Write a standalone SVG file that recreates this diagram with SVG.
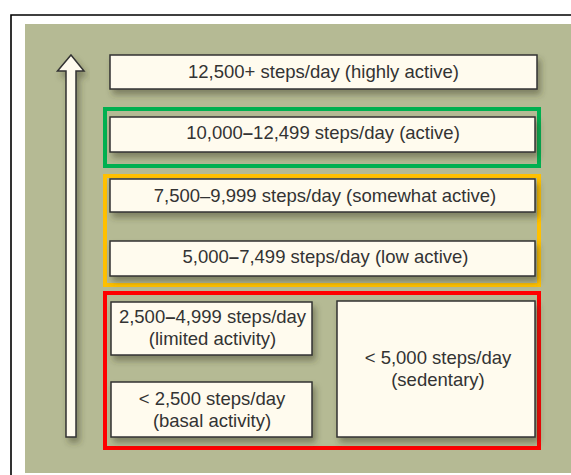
<svg xmlns="http://www.w3.org/2000/svg" width="571" height="475" viewBox="0 0 571 475">
<style>
.box{fill:#FFFBEE;stroke:#333;stroke-width:1.5;filter:url(#sh)}
.grp{fill:none;stroke-width:4}
text{font-family:"Liberation Sans",Arial,sans-serif;font-size:18.5px;fill:#333;text-anchor:middle}
.b{font-weight:bold}
</style>
<defs>
<filter id="sh" x="-10%" y="-20%" width="130%" height="160%">
<feDropShadow dx="3" dy="5" stdDeviation="3" flood-color="#3c3c28" flood-opacity="0.45"/>
</filter>
</defs>
<rect x="0" y="0" width="571" height="475" fill="#fff"/>
<path d="M11 475 V15 H571" fill="none" stroke="#000" stroke-width="1.6"/>
<rect x="25" y="24" width="546" height="449" fill="#B5BA94"/>
<g id="arrow">
<polygon points="71,55 84,71 76,71 76,437 66,437 66,71 57.5,71" fill="#FFFBEE" stroke="#333" stroke-width="1.5" filter="url(#sh)"/>
</g>
<g id="groups">
<rect class="grp" x="105" y="109" width="434" height="57" stroke="#00B050"/>
<rect class="grp" x="105" y="176" width="434" height="109" stroke="#FFC000"/>
<rect class="grp" x="105" y="293" width="434" height="155" stroke="#FF0000"/>
</g>
<g id="n1"><rect class="box" x="110" y="55" width="427" height="34"/><text x="323.5" y="78">12,500+ steps/day (highly active)</text></g>
<g id="n2"><rect class="box" x="110" y="117" width="425" height="35"/><text x="323" y="139">10,000<tspan class="b">–</tspan>12,499 steps/day (active)</text></g>
<g id="n3"><rect class="box" x="110" y="179" width="425" height="33"/><text x="325" y="202">7,500–9,999 steps/day (somewhat active)</text></g>
<g id="n4"><rect class="box" x="110" y="241" width="425" height="35"/><text x="325.5" y="263">5,000<tspan class="b">–</tspan>7,499 steps/day (low active)</text></g>
<g id="n5"><rect class="box" x="111" y="302" width="201" height="53"/><text x="212.5" y="323">2,500<tspan class="b">–</tspan>4,999 steps/day</text><text x="212.5" y="345">(limited activity)</text></g>
<g id="n6"><rect class="box" x="111" y="382" width="201" height="55"/><text x="212" y="405">&lt; 2,500 steps/day</text><text x="212" y="427">(basal activity)</text></g>
<g id="n7"><rect class="box" x="337" y="301" width="198" height="136"/><text x="438" y="364">&lt; 5,000 steps/day</text><text x="438" y="386">(sedentary)</text></g>
</svg>
